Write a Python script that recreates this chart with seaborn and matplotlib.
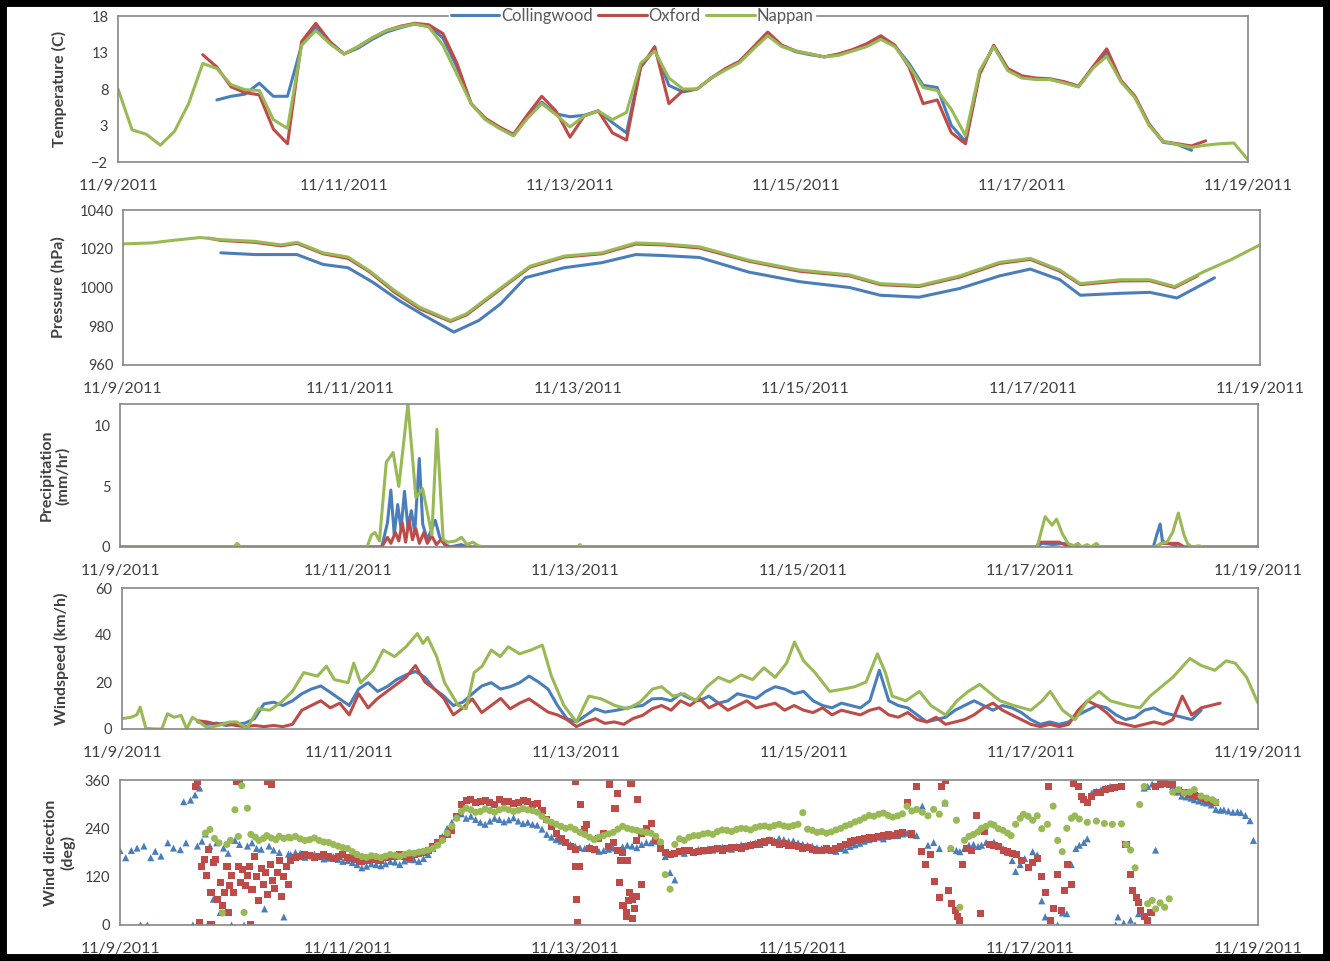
import numpy as np
import pandas as pd
import matplotlib
matplotlib.use("Agg")
import matplotlib.pyplot as plt
import matplotlib.dates as mdates
from matplotlib.patches import Rectangle
import seaborn as sns

nan = np.nan
START = pd.Timestamp("2011-11-09")
STATIONS = ["Collingwood", "Oxford", "Nappan"]
PALETTE = {"Collingwood": "#4A7EBB", "Oxford": "#BE4B48", "Nappan": "#98B954"}
MARKERS = {"Collingwood": "^", "Oxford": "s", "Nappan": "o"}

x_tick_labels = ["11/9/2011", "11/11/2011", "11/13/2011",
                 "11/15/2011", "11/17/2011", "11/19/2011"]

# ---------------- temperature (C), 3-hourly samples ----------------
temp_hours = np.arange(0, 241, 3)
temp_collingwood = [
    nan, nan, nan, nan, nan, nan, nan, 6.5, 7.0, 7.3, 8.8, 7.0, 7.0, 14.0, 16.5, 14.3,
    12.8, 13.6, 14.8, 15.8, 16.4, 16.9, 16.6, 15.0, 11.0, 6.0, 3.9, 2.7, 1.6, 4.2, 6.2, 4.6,
    4.2, 4.4, 5.0, 3.4, 2.0, 11.0, 13.4, 8.5, 7.6, 8.0, 9.5, 10.7, 11.7, 13.6, 15.5, 13.9,
    13.1, 12.7, 12.4, 12.7, 13.3, 14.0, 15.0, 13.9, 11.5, 8.5, 8.2, 3.0, 0.8, 10.2, 13.9, 10.6,
    9.6, 9.4, 9.3, 8.9, 8.3, 10.9, 13.0, 9.1, 6.9, 3.1, 0.7, 0.4, -0.4, nan, nan, nan, nan]
temp_oxford = [
    nan, nan, nan, nan, nan, nan, 12.7, 11.0, 8.3, 7.5, 7.2, 2.5, 0.5, 14.5, 17.0, 14.5,
    12.8, 13.8, 15.0, 16.0, 16.6, 17.0, 16.8, 15.6, 11.5, 6.0, 4.0, 2.8, 1.8, 4.5, 7.0, 5.0,
    1.4, 4.3, 5.0, 2.0, 1.0, 11.0, 13.8, 6.0, 7.8, 8.0, 9.5, 10.8, 11.8, 13.8, 15.8, 14.0,
    13.2, 12.8, 12.4, 12.8, 13.4, 14.2, 15.3, 14.0, 11.0, 6.0, 6.5, 2.0, 0.5, 10.0, 14.0, 10.8,
    9.8, 9.5, 9.4, 9.0, 8.4, 11.0, 13.5, 9.2, 7.0, 3.2, 0.8, 0.5, 0.2, 0.9, nan, nan, nan]
temp_nappan = [
    8.0, 2.4, 1.8, 0.3, 2.2, 6.0, 11.5, 10.8, 8.6, 7.9, 7.8, 3.8, 2.6, 14.0, 16.0, 14.2,
    12.8, 13.8, 15.0, 16.0, 16.5, 16.9, 16.5, 14.0, 10.0, 6.0, 3.8, 2.6, 1.6, 4.0, 6.0, 4.5,
    2.8, 4.3, 5.0, 3.8, 4.8, 11.5, 13.2, 9.5, 8.0, 8.0, 9.5, 10.6, 11.6, 13.5, 15.3, 13.8,
    13.2, 12.8, 12.4, 12.6, 13.2, 13.8, 14.8, 13.8, 11.2, 8.2, 7.8, 5.2, 1.6, 10.5, 13.8, 10.5,
    9.5, 9.3, 9.3, 8.8, 8.3, 10.8, 12.5, 9.0, 6.8, 3.0, 0.8, 0.4, 0.0, 0.3, 0.5, 0.6, -1.7]

# ---------------- pressure (hPa), (day, value) readings ----------------
pres_collingwood = [
    (0.86, 1017.9), (1.16, 1017.0), (1.53, 1017.0), (1.76, 1011.9), (1.98, 1010.2),
    (2.20, 1002.6), (2.43, 993.2), (2.65, 985.5), (2.91, 977.0), (3.13, 983.0),
    (3.32, 991.5), (3.54, 1005.1), (3.88, 1010.2), (4.21, 1012.8), (4.51, 1017.0),
    (4.75, 1016.5), (5.07, 1015.5), (5.50, 1008.0), (5.95, 1003.0), (6.39, 1000.0),
    (6.66, 996.0), (7.00, 995.0), (7.36, 999.5), (7.71, 1006.0), (7.98, 1009.5),
    (8.24, 1004.0), (8.42, 996.0), (8.77, 997.0), (9.03, 997.5), (9.27, 994.6),
    (9.60, 1005.0)]
pres_oxford = [
    (0.75, 1025.5), (0.86, 1024.3), (1.16, 1023.3), (1.39, 1021.5), (1.53, 1022.8),
    (1.76, 1017.4), (1.98, 1015.0), (2.17, 1008.0), (2.39, 997.5), (2.61, 989.0),
    (2.88, 982.5), (3.02, 985.8), (3.25, 996.0), (3.58, 1010.5), (3.88, 1015.7),
    (4.21, 1017.4), (4.51, 1022.4), (4.75, 1022.0), (5.07, 1020.4), (5.51, 1013.5),
    (5.95, 1008.4), (6.39, 1006.0), (6.66, 1001.5), (7.00, 1000.5), (7.36, 1005.4),
    (7.71, 1012.4), (7.98, 1014.5), (8.24, 1008.4), (8.42, 1001.5), (8.77, 1003.4),
    (9.03, 1003.5), (9.25, 1000.0), (9.45, 1006.0)]
pres_nappan = [
    (0.00, 1022.5), (0.25, 1023.0), (0.42, 1024.2), (0.68, 1025.8), (0.86, 1024.7),
    (1.16, 1023.8), (1.39, 1022.0), (1.53, 1023.3), (1.76, 1017.9), (1.98, 1015.7),
    (2.17, 1008.5), (2.39, 998.3), (2.61, 989.8), (2.88, 983.0), (3.02, 986.4),
    (3.25, 996.6), (3.58, 1011.0), (3.88, 1016.2), (4.21, 1017.9), (4.51, 1023.0),
    (4.75, 1022.5), (5.07, 1021.0), (5.51, 1014.0), (5.95, 1009.0), (6.39, 1006.5),
    (6.66, 1002.0), (7.00, 1001.0), (7.36, 1006.0), (7.71, 1013.0), (7.98, 1015.0),
    (8.24, 1009.0), (8.42, 1002.0), (8.77, 1004.0), (9.03, 1004.0), (9.25, 1000.5),
    (9.50, 1008.0), (9.75, 1014.5), (10.00, 1022.0)]

# ---------------- precipitation (mm/hr), (day, value) readings ----------------
prec_collingwood = [
    (0.00, 0), (2.30, 0), (2.35, 2.0), (2.38, 4.7), (2.41, 1.0), (2.44, 3.5), (2.47, 1.5),
    (2.50, 4.6), (2.53, 1.6), (2.56, 3.0), (2.59, 1.2), (2.63, 7.3), (2.66, 1.9),
    (2.70, 0.6), (2.74, 1.5), (2.77, 2.2), (2.81, 0.8), (2.86, 0.2), (2.90, 0),
    (3.00, 0.2), (3.05, 0), (8.06, 0), (8.10, 0.3), (8.20, 0.2), (8.30, 0.3), (8.34, 0),
    (9.08, 0), (9.11, 1.0), (9.14, 1.9), (9.16, 0.5), (9.20, 0.3), (9.25, 0.2),
    (9.30, 0), (10.00, 0)]
prec_oxford = [
    (0.00, 0), (2.30, 0), (2.35, 0.8), (2.38, 0.3), (2.42, 1.2), (2.45, 0.5), (2.48, 2.0),
    (2.51, 0.4), (2.54, 2.2), (2.57, 0.6), (2.60, 1.5), (2.63, 0.3), (2.67, 1.2),
    (2.70, 0.3), (2.74, 0.9), (2.78, 0.2), (2.82, 0.6), (2.86, 0.1), (2.90, 0),
    (8.05, 0), (8.08, 0.4), (8.15, 0.4), (8.25, 0.4), (8.30, 0.2), (8.33, 0),
    (9.10, 0), (9.15, 0.3), (9.30, 0.3), (9.35, 0), (10.00, 0)]
prec_nappan = [
    (0.00, 0), (1.00, 0), (1.03, 0.3), (1.06, 0), (2.17, 0), (2.21, 1.0), (2.24, 1.2),
    (2.28, 0.5), (2.34, 7.0), (2.40, 7.8), (2.45, 5.0), (2.53, 11.8), (2.60, 4.1),
    (2.66, 4.8), (2.74, 1.0), (2.785, 9.7), (2.84, 0.6), (2.88, 0.4), (2.95, 0.5),
    (3.00, 0.8), (3.05, 0.2), (3.10, 0.4), (3.15, 0.1), (3.20, 0), (4.02, 0), (4.04, 0.2),
    (4.06, 0), (8.06, 0), (8.09, 1.1), (8.13, 2.5), (8.19, 1.8), (8.23, 2.3), (8.28, 1.1),
    (8.33, 0.3), (8.38, 0.1), (8.42, 0.3), (8.45, 0), (8.50, 0.2), (8.53, 0), (8.58, 0.3),
    (8.61, 0), (9.10, 0), (9.15, 0.3), (9.20, 0.4), (9.25, 1.2), (9.30, 2.8), (9.35, 1.0),
    (9.38, 0.3), (9.42, 0), (9.48, 0.1), (9.52, 0), (10.00, 0)]

# ---------------- wind speed (km/h) ----------------
wind_hours = np.arange(0, 241, 2)
wind_collingwood = [
    nan, nan, nan, nan, nan, nan, nan, nan,
    3, 2, 2.5, 1.5, 2, 2.5, 4.4, 10.7, 11.4, 10, 12, 15, 17, 18.3, 15.6, 12.8, 10, 17,
    19.7, 16, 18, 21, 23, 24.5, 22, 17, 14, 10, 11.4, 15, 18.3, 19.7, 17, 18, 19.7, 22.5,
    20, 17, 10, 4.4, 3, 5.8, 8.6, 7.2, 7.8, 8.6, 9.5, 10, 12.8,
    13, 12, 15, 13, 12, 14, 11, 12, 15, 14, 13, 16, 18, 17, 15, 16, 12, 10, 9, 11,
    10, 9, 12, 25, 12, 10, 9, 6, 3, 4, 5, 8, 10, 12, 10, 8, 10, 9, 7, 4,
    2, 3, 2, 3, 6, 8, 10, 9, 6, 4, 5, 8, 9, 7, 6, 5, 4, 8,
    nan, nan, nan, nan, nan, nan]
wind_oxford = [
    nan, nan, nan, nan, nan, nan, nan, nan,
    3.5, 3, 2, 2.5, 1.5, 1, 1.5, 1, 1.5, 1, 2, 8, 10, 12, 9, 11, 6, 15, 9, 13,
    16, 19, 22, 27, 20, 17, 13, 6, 9, 12.8, 7, 10, 13, 8.6, 11, 12.8, 10, 7.2, 6, 4,
    1, 3, 4.4, 2.4, 3, 2, 4.5, 5.8, 8.6,
    10, 8, 12, 10, 13, 9, 11, 8, 10, 12, 9, 10, 11, 8, 10, 8, 7, 9, 6, 8,
    7, 6, 8, 9, 6, 5, 7, 4, 3, 5, 2, 3, 4, 6, 9, 11, 8, 6, 4, 2,
    1, 2, 1, 2, 8, 12, 10, 7, 3, 2, 1, 2, 3, 2, 4, 14, 6, 9, 10, 11,
    nan, nan, nan, nan]
wind_nappan = [
    (0.00, 4.4), (0.08, 5), (0.13, 6), (0.16, 9.3), (0.21, 0.3), (0.30, 0), (0.35, 0),
    (0.40, 6.5), (0.46, 5), (0.52, 5.8), (0.57, 0), (0.62, 5), (0.68, 3), (0.75, 0.5),
    (0.85, 1.5), (0.95, 3), (1.01, 3), (1.10, 0.3), (1.20, 8.6), (1.30, 8), (1.40, 11.4),
    (1.50, 16), (1.60, 24), (1.72, 22.5), (1.80, 26.7), (1.87, 21), (1.99, 19.7),
    (2.04, 28), (2.10, 19.7), (2.21, 25), (2.30, 33.6), (2.40, 30.8), (2.50, 35),
    (2.60, 40.6), (2.65, 36.4), (2.69, 39), (2.77, 30.8), (2.84, 19.7), (2.96, 10),
    (3.03, 8.6), (3.10, 24), (3.17, 26.7), (3.25, 33.6), (3.33, 30.8), (3.40, 35),
    (3.50, 32), (3.60, 33.6), (3.70, 35.7), (3.78, 22.5), (3.89, 10), (4.00, 3),
    (4.11, 14), (4.22, 12.8), (4.34, 10), (4.45, 8.6), (4.56, 11.4), (4.67, 17),
    (4.75, 18), (4.85, 14), (4.95, 15), (5.05, 12), (5.15, 18), (5.25, 22), (5.35, 20),
    (5.45, 23), (5.55, 21), (5.65, 26), (5.75, 22), (5.85, 28), (5.92, 37), (6.00, 29),
    (6.10, 24), (6.23, 16), (6.35, 17), (6.45, 18), (6.55, 20), (6.65, 32), (6.72, 24),
    (6.78, 14), (6.90, 12), (7.02, 16), (7.12, 10), (7.25, 6), (7.35, 12), (7.45, 16),
    (7.55, 19), (7.65, 15), (7.73, 12), (7.85, 10), (8.00, 8), (8.10, 12), (8.17, 16),
    (8.28, 8), (8.39, 4), (8.50, 12), (8.60, 16), (8.70, 12), (8.85, 10), (8.96, 9),
    (9.05, 14), (9.15, 18), (9.25, 22), (9.40, 30), (9.50, 27), (9.62, 25), (9.72, 29),
    (9.80, 28), (9.90, 22), (10.00, 11)]

# ---------------- wind direction (deg) ----------------
# hourly readings through the steady stretch, 11/10 12:00 to 11/16 00:00
dir_band_hours = np.arange(36, 169)
dir_band_collingwood = [
    175, 180, 178, 168, 172, 176, 170, 164, 166, 170, 163, 158,
    160, 155, 150, 142, 146, 152, 150, 147, 152, 158, 156, 150,
    159, 163, 162, 158, 165, 175, 190, 205, 220, 240, 255, 268,
    276, 265, 270, 262, 255, 250, 258, 265, 262, 256, 261, 266,
    258, 252, 255, 250, 248, 238, 225, 218, 212, 208, 205, 200,
    196, 192, 190, 195, 187, 183, 185, 188, 191, 186, 194, 198,
    196, 192, 200, 205, 204, 208, 206, 170, 130, 112, 182, 178,
    186, 180, 188, 184, 190, 186, 189, 193, 190, 188, 195, 199,
    198, 202, 204, 200, 208, 212, 210, 215, 212, 208, 209, 204,
    200, 198, 196, 192, 190, 186, 186, 183, 190, 186, 195, 199,
    203, 208, 212, 215, 218, 214, 220, 224, 222, 226, 228, 224,
    222]
dir_band_oxford = [
    160, 168, 171, 175, 172, 168, 171, 174, 170, 166, 171, 175,
    168, 165, 162, 158, 159, 163, 163, 160, 167, 170, 170, 174,
    171, 168, 175, 178, 179, 185, 196, 205, 215, 225, 235, 270,
    300, 308, 311, 303, 306, 310, 305, 300, 311, 307, 306, 302,
    305, 309, 306, 300, 302, 285, 261, 245, 228, 215, 204, 195,
    187, 146, 237, 190, 187, 215, 228, 196, 204, 185, 179, 160,
    64, 210, 228, 240, 253, 210, 190, 180, 175, 178, 182, 186,
    184, 180, 182, 185, 186, 188, 190, 186, 190, 193, 192, 190,
    194, 198, 200, 204, 206, 209, 204, 200, 202, 198, 198, 194,
    190, 192, 188, 185, 186, 189, 186, 190, 196, 200, 206, 209,
    212, 215, 218, 216, 220, 223, 224, 222, 226, 230, 303, 226,
    344]
dir_band_nappan = [
    216, 220, 214, 210, 212, 216, 210, 206, 205, 200, 196, 192,
    190, 182, 175, 170, 168, 172, 170, 167, 171, 175, 173, 170,
    175, 179, 178, 181, 183, 186, 190, 198, 210, 228, 245, 265,
    282, 290, 286, 280, 282, 288, 284, 280, 286, 290, 286, 282,
    285, 289, 286, 284, 280, 270, 260, 255, 250, 245, 240, 243,
    237, 230, 225, 218, 212, 218, 222, 226, 230, 238, 245, 240,
    237, 235, 232, 230, 228, 220, 206, 125, 89, 200, 214, 210,
    218, 222, 222, 226, 228, 225, 232, 236, 235, 232, 237, 240,
    239, 236, 242, 245, 246, 243, 247, 250, 246, 244, 247, 250,
    279, 238, 235, 230, 232, 228, 231, 236, 240, 246, 250, 256,
    260, 266, 272, 270, 275, 278, 272, 268, 271, 276, 295, 283,
    287]

# scattered (day, value) readings outside the steady stretch
dir_collingwood = [
    (0.00, 185), (0.05, 167), (0.10, 185), (0.15, 191), (0.18, 0), (0.21, 196), (0.24, 0),
    (0.27, 167), (0.31, 183), (0.36, 171), (0.42, 204), (0.47, 191), (0.53, 187),
    (0.56, 306), (0.58, 204), (0.62, 310), (0.64, 0), (0.66, 323), (0.68, 196),
    (0.70, 340), (0.72, 208), (0.75, 226), (0.77, 0), (0.79, 196), (0.82, 64), (0.85, 204),
    (0.88, 31), (0.91, 191), (0.95, 178), (0.98, 0), (1.01, 210), (1.05, 200), (1.09, 0),
    (1.12, 196), (1.16, 204), (1.20, 190), (1.24, 188), (1.27, 40), (1.31, 196),
    (1.35, 186), (1.40, 180), (1.44, 20), (1.48, 176),
    (7.05, 295), (7.10, 198), (7.15, 205), (7.20, 190), (7.25, 303), (7.30, 190),
    (7.35, 185), (7.38, 182), (7.42, 190), (7.46, 198), (7.50, 200), (7.54, 195),
    (7.57, 198), (7.61, 205), (7.65, 200), (7.68, 206), (7.72, 195), (7.76, 190),
    (7.80, 180), (7.84, 160), (7.87, 133), (7.91, 150), (7.95, 165), (8.02, 182),
    (8.06, 174), (8.10, 60), (8.13, 20), (8.18, 12), (8.24, 0), (8.28, 30), (8.32, 28),
    (8.36, 150), (8.40, 190), (8.43, 198), (8.47, 205), (8.50, 214), (8.54, 328),
    (8.58, 332), (8.62, 336), (8.66, 340), (8.70, 344), (8.75, 0), (8.77, 20), (8.82, 5),
    (8.88, 12), (8.92, 0), (8.95, 28), (9.00, 340), (9.03, 344), (9.07, 350), (9.10, 186),
    (9.14, 355), (9.18, 360), (9.22, 350), (9.25, 344), (9.29, 330), (9.33, 320),
    (9.37, 318), (9.41, 315), (9.44, 311), (9.48, 308), (9.52, 305), (9.55, 303),
    (9.59, 298), (9.63, 287), (9.67, 285), (9.70, 286), (9.74, 283), (9.78, 280),
    (9.82, 281), (9.85, 279), (9.89, 272), (9.93, 259), (9.96, 210)]
dir_oxford = [
    (0.66, 343), (0.68, 356), (0.70, 7), (0.72, 146), (0.74, 163), (0.76, 122), (0.78, 187),
    (0.80, 80), (0.80, 0), (0.82, 155), (0.84, 163), (0.86, 64), (0.88, 105), (0.90, 48),
    (0.92, 80), (0.94, 146), (0.95, 30), (0.96, 97), (0.98, 122), (1.00, 80), (1.02, 356),
    (1.04, 146), (1.05, 360), (1.06, 105), (1.08, 138), (1.10, 97), (1.12, 122),
    (1.14, 146), (1.15, 0), (1.16, 89), (1.18, 171), (1.20, 120), (1.22, 60), (1.24, 140),
    (1.26, 100), (1.28, 130), (1.30, 356), (1.30, 75), (1.32, 150), (1.33, 350),
    (1.34, 110), (1.36, 90), (1.38, 130), (1.40, 160), (1.42, 70), (1.44, 120),
    (1.46, 145), (1.48, 100),
    (4.00, 356), (4.00, 146), (4.01, 64), (4.02, 7), (4.05, 300), (4.10, 250),
    (4.30, 350), (4.35, 290), (4.37, 327), (4.39, 105), (4.40, 160), (4.42, 48),
    (4.45, 31), (4.45, 20), (4.47, 60), (4.48, 80), (4.49, 352), (4.50, 15),
    (4.52, 40), (4.54, 70), (4.55, 311), (4.58, 100),
    (7.04, 182), (7.08, 150), (7.12, 174), (7.16, 109), (7.20, 69), (7.22, 344),
    (7.25, 360), (7.28, 85), (7.31, 53), (7.34, 36), (7.36, 20), (7.38, 12), (7.40, 150),
    (7.44, 190), (7.48, 185), (7.53, 271), (7.56, 28), (7.60, 231), (7.64, 200),
    (7.68, 198), (7.72, 194), (7.76, 185), (7.80, 182), (7.84, 178), (7.88, 174),
    (7.92, 160), (7.98, 142), (8.02, 155), (8.06, 166), (8.10, 120), (8.13, 80),
    (8.16, 344), (8.18, 12), (8.20, 40), (8.24, 125), (8.27, 36), (8.30, 85), (8.33, 150),
    (8.36, 100), (8.38, 352), (8.42, 344), (8.45, 320), (8.47, 311), (8.50, 303),
    (8.54, 320), (8.58, 328), (8.62, 330), (8.66, 336), (8.70, 340), (8.74, 342),
    (8.80, 344), (8.84, 200), (8.88, 125), (8.90, 85), (8.93, 69), (8.95, 55), (8.97, 36),
    (9.00, 20), (9.03, 12), (9.06, 30), (9.10, 344), (9.14, 350), (9.18, 352),
    (9.22, 348), (9.25, 348), (9.30, 335), (9.35, 328), (9.40, 324), (9.44, 322),
    (9.48, 320), (9.52, 315), (9.56, 310), (9.60, 306), (9.63, 303)]
dir_nappan = [
    (0.75, 228), (0.79, 237), (0.83, 215), (0.87, 204), (0.90, 30), (0.94, 200),
    (0.97, 210), (1.01, 286), (1.04, 220), (1.07, 346), (1.09, 31), (1.12, 290),
    (1.15, 225), (1.19, 218), (1.22, 210), (1.26, 215), (1.29, 222), (1.33, 216),
    (1.37, 212), (1.40, 220), (1.44, 215), (1.48, 218),
    (7.05, 280), (7.10, 271), (7.15, 287), (7.20, 275), (7.25, 303), (7.30, 190),
    (7.35, 260), (7.38, 44), (7.42, 210), (7.46, 220), (7.50, 225), (7.54, 231),
    (7.57, 240), (7.61, 245), (7.65, 251), (7.68, 248), (7.72, 239), (7.76, 235),
    (7.80, 228), (7.83, 222), (7.87, 250), (7.91, 265), (7.94, 275), (7.98, 270),
    (8.02, 260), (8.06, 271), (8.10, 239), (8.15, 250), (8.20, 295), (8.24, 210),
    (8.28, 182), (8.32, 240), (8.36, 265), (8.39, 271), (8.43, 263), (8.50, 255),
    (8.58, 258), (8.65, 252), (8.72, 250), (8.80, 251), (8.84, 200), (8.88, 186),
    (8.92, 142), (8.96, 299), (9.00, 344), (9.03, 53), (9.07, 61), (9.10, 40),
    (9.14, 55), (9.18, 44), (9.22, 65), (9.25, 330), (9.30, 336), (9.35, 328),
    (9.40, 330), (9.44, 336), (9.50, 320), (9.55, 315), (9.60, 311), (9.63, 305)]


def to_time(days):
    return START + pd.to_timedelta(np.asarray(days, dtype=float), unit="D")


def from_grid(hours, values):
    return np.asarray(hours, dtype=float) / 24.0, np.asarray(values, dtype=float)


def from_pairs(pairs):
    arr = np.asarray(pairs, dtype=float)
    return arr[:, 0], arr[:, 1]


def merged(pairs, hours, values):
    d1, v1 = from_pairs(pairs)
    d2, v2 = from_grid(hours, values)
    days = np.concatenate([d1, d2])
    vals = np.concatenate([v1, v2])
    order = np.argsort(days, kind="stable")
    return days[order], vals[order]


def long_frame(series):
    parts = []
    for st in STATIONS:
        days, vals = series[st]
        part = pd.DataFrame({"time": to_time(days), "value": vals, "station": st})
        parts.append(part.dropna())
    return pd.concat(parts, ignore_index=True)


temp_df = long_frame({
    "Collingwood": from_grid(temp_hours, temp_collingwood),
    "Oxford": from_grid(temp_hours, temp_oxford),
    "Nappan": from_grid(temp_hours, temp_nappan)})
pres_df = long_frame({
    "Collingwood": from_pairs(pres_collingwood),
    "Oxford": from_pairs(pres_oxford),
    "Nappan": from_pairs(pres_nappan)})
prec_df = long_frame({
    "Collingwood": from_pairs(prec_collingwood),
    "Oxford": from_pairs(prec_oxford),
    "Nappan": from_pairs(prec_nappan)})
wind_df = long_frame({
    "Collingwood": from_grid(wind_hours, wind_collingwood),
    "Oxford": from_grid(wind_hours, wind_oxford),
    "Nappan": from_pairs(wind_nappan)})
dir_df = long_frame({
    "Collingwood": merged(dir_collingwood, dir_band_hours, dir_band_collingwood),
    "Oxford": merged(dir_oxford, dir_band_hours, dir_band_oxford),
    "Nappan": merged(dir_nappan, dir_band_hours, dir_band_nappan)})

# ---------------- figure ----------------
sns.set_style("white")
plt.rcParams["font.family"] = ["Lato", "DejaVu Sans"]

fig = plt.figure(figsize=(13.3, 9.61), dpi=100)
W, H = 1330.0, 961.0


def add_axes(x0, x1, y0, y1):
    return fig.add_axes([x0 / W, 1 - y1 / H, (x1 - x0) / W, (y1 - y0) / H])


ax_t = add_axes(118, 1248, 16, 162)
ax_p = add_axes(123, 1260, 210, 365)
ax_r = add_axes(120, 1258, 404, 547)
ax_w = add_axes(122, 1258, 588, 729)
ax_d = add_axes(120, 1258, 780, 925)

line_kw = dict(x="time", y="value", hue="station", hue_order=STATIONS,
               palette=PALETTE, estimator=None, errorbar=None, sort=False,
               linewidth=2.2)

sns.lineplot(data=temp_df, ax=ax_t, legend=True, **line_kw)
sns.lineplot(data=pres_df, ax=ax_p, legend=False, **line_kw)
sns.lineplot(data=prec_df, ax=ax_r, legend=False, **line_kw)
sns.lineplot(data=wind_df, ax=ax_w, legend=False, **line_kw)
sns.scatterplot(data=dir_df, x="time", y="value", hue="station", style="station",
                hue_order=STATIONS, style_order=STATIONS, palette=PALETTE,
                markers=MARKERS, s=26, linewidth=0, legend=False, ax=ax_d)

panels = [
    (ax_t, "Temperature (C)", (-2, 18), [-2, 3, 8, 13, 18], -0.052),
    (ax_p, "Pressure (hPa)", (960, 1040), [960, 980, 1000, 1020, 1040], -0.057),
    (ax_r, "Precipitation\n(mm/hr)", (0, 11.8), [0, 5, 10], -0.057),
    (ax_w, "Windspeed (km/h)", (0, 60), [0, 20, 40, 60], -0.053),
    (ax_d, "Wind direction\n(deg)", (0, 360), [0, 120, 240, 360], -0.053),
]

tick_dates = pd.to_datetime(x_tick_labels, format="%m/%d/%Y")
spine_color = "#868686"
text_color = "#404040"

for ax, label, ylim, yticks, lab_x in panels:
    ax.set_xlim(START, START + pd.Timedelta(days=10))
    ax.set_ylim(*ylim)
    ax.set_yticks(yticks)
    ax.set_xticks(tick_dates)
    ax.set_xticklabels(x_tick_labels)
    ax.xaxis.set_minor_locator(mdates.DayLocator())
    ax.set_xlabel("")
    ax.set_ylabel(label, fontsize=11.5, fontweight="bold", color=text_color,
                  va="center", linespacing=1.15)
    ax.yaxis.set_label_coords(lab_x, 0.5)
    for sp in ax.spines.values():
        sp.set_visible(True)
        sp.set_color(spine_color)
        sp.set_linewidth(1.2)
    ax.tick_params(axis="x", which="both", direction="inout", length=7, width=1,
                   color=spine_color, pad=9, labelsize=11.5, labelcolor=text_color)
    ax.tick_params(axis="y", which="major", direction="out", length=4, width=1,
                   color=spine_color, pad=3, labelsize=10.5, labelcolor=text_color)
    ax.grid(False)

# legend sitting on the top border of the temperature panel
old = ax_t.get_legend()
handles = list(old.legend_handles)
labels = [t.get_text() for t in old.get_texts()]
old.remove()
leg = ax_t.legend(handles, labels, loc="center", bbox_to_anchor=(0.455, 1.0),
                  ncol=3, frameon=True, fancybox=False, fontsize=12,
                  handlelength=2.9, handletextpad=0.1, columnspacing=0.35,
                  borderpad=0.1, borderaxespad=0)
leg.get_frame().set_facecolor("white")
leg.get_frame().set_edgecolor("white")
leg.get_frame().set_alpha(1)
for h in leg.legend_handles:
    h.set_linewidth(2.2)
for t in leg.get_texts():
    t.set_color("#595959")

# black frame round the whole figure
fig.patches.append(Rectangle((0, 0), 1, 1, transform=fig.transFigure, fill=False,
                             edgecolor="black", linewidth=10, zorder=10))

fig.savefig("out.png", dpi=100)
